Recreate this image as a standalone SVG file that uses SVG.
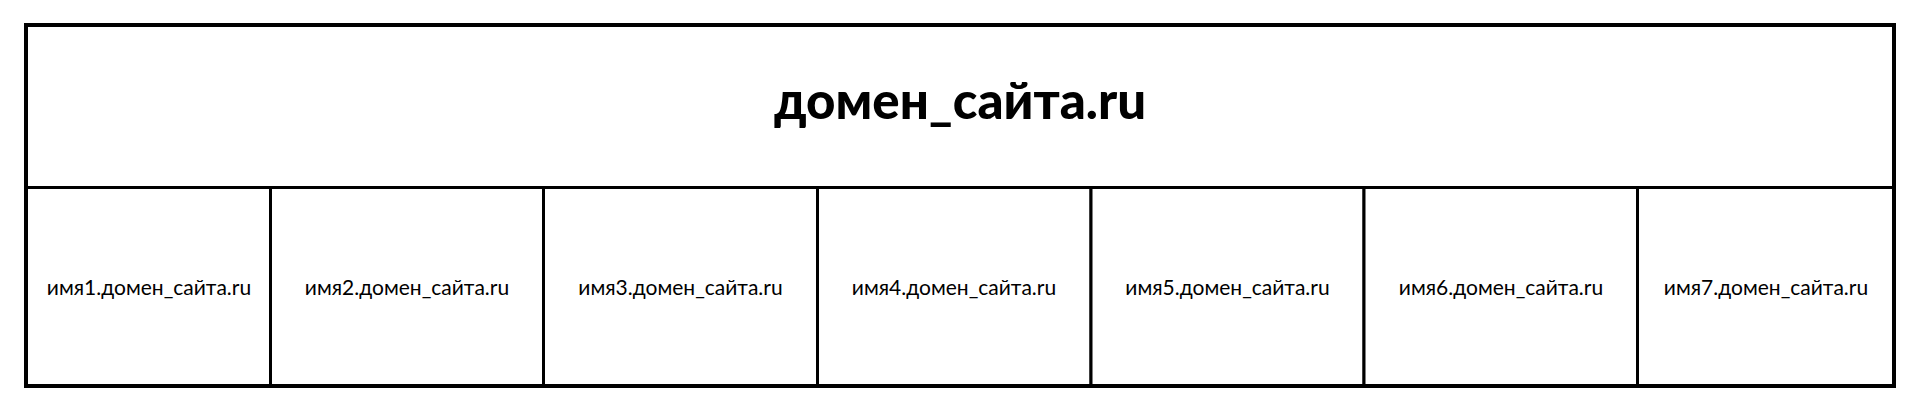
<svg xmlns="http://www.w3.org/2000/svg" width="1920" height="413" viewBox="0 0 1920 413">
<style>
.cell{fill:#fff;stroke:#000;stroke-width:3}
.title{font-family:Lato,"Liberation Sans",sans-serif;font-weight:900;font-size:51px;fill:#000;text-anchor:middle}
.lbl{font-family:Lato,"Liberation Sans",sans-serif;font-size:21px;fill:#000;text-anchor:middle}
</style>
<rect x="0" y="0" width="1920" height="413" fill="#fff"/>
<g id="root">
<rect class="cell" x="26" y="25" width="1868" height="162.5"/>
<text class="title" x="960" y="119">домен_сайта.ru</text>
</g>
<g id="sub1"><rect class="cell" x="26" y="187.5" width="244.5" height="198.5"/><text class="lbl" x="149" y="295">имя1.домен_сайта.ru</text></g>
<g id="sub2"><rect class="cell" x="270.5" y="187.5" width="273" height="198.5"/><text class="lbl" x="407" y="295">имя2.домен_сайта.ru</text></g>
<g id="sub3"><rect class="cell" x="543.5" y="187.5" width="274" height="198.5"/><text class="lbl" x="680.5" y="295">имя3.домен_сайта.ru</text></g>
<g id="sub4"><rect class="cell" x="817.5" y="187.5" width="273.5" height="198.5"/><text class="lbl" x="954" y="295">имя4.домен_сайта.ru</text></g>
<g id="sub5"><rect class="cell" x="1091" y="187.5" width="273" height="198.5"/><text class="lbl" x="1227.5" y="295">имя5.домен_сайта.ru</text></g>
<g id="sub6"><rect class="cell" x="1364" y="187.5" width="273.5" height="198.5"/><text class="lbl" x="1501" y="295">имя6.домен_сайта.ru</text></g>
<g id="sub7"><rect class="cell" x="1637.5" y="187.5" width="256.5" height="198.5"/><text class="lbl" x="1766" y="295">имя7.домен_сайта.ru</text></g>
<g id="connectors"></g>
<rect x="26" y="25" width="1868" height="361" fill="none" stroke="#000" stroke-width="4"/>
</svg>
